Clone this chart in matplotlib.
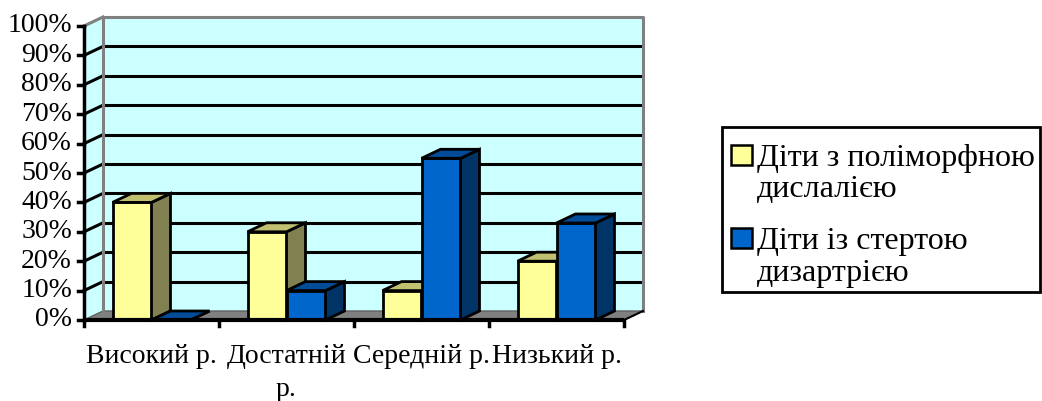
import matplotlib
matplotlib.use("Agg")
import matplotlib.pyplot as plt
from matplotlib.patches import Polygon, Rectangle

# ---- data ----
categories = ["Високий р.", "Достатній\nр.", "Середній р.", "Низький р."]
series_names = ["Діти з поліморфною\nдислалією", "Діти із стертою\nдизартрією"]
poly_dyslalia = [40, 30, 10, 20]
erased_dysarthria = [0, 10, 55, 33]
y_ticks = [0, 10, 20, 30, 40, 50, 60, 70, 80, 90, 100]

# ---- style ----
FONT = "Liberation Serif"
FS = 20
FS_LEG = 23
face = {0: "#FFFF99", 1: "#0066CC"}
side = {0: "#808050", 1: "#003366"}
top = {0: "#C0C070", 1: "#004C99"}
WALL = "#CCFFFF"
FLOOR = "#808080"

W, H = 1042, 401
fig = plt.figure(figsize=(W / 100, H / 100), dpi=100)

# pixel geometry of the 3D plot
x0p, x1p = 84, 624          # front axis
yb, yt = 320, 26            # front 0% / 100%
ddx, ddy = 19, 9            # depth offset in px
sx = (x1p - x0p) / len(categories)
sy = (yb - yt) / 100.0
DX = ddx / sx
DY = ddy / sy
ncat = len(categories)

ax = fig.add_axes([x0p / W, (H - yb) / H, (x1p - x0p + ddx) / W, (yb - yt + ddy) / H])
ax.set_xlim(0, ncat + DX)
ax.set_ylim(0, 100 + DY)
ax.axis("off")

def poly(pts, fc, ec="none", lw=0, z=1):
    ax.add_patch(Polygon(pts, closed=True, facecolor=fc, edgecolor=ec, linewidth=lw,
                         zorder=z, clip_on=False, joinstyle="miter"))

# side wall, back wall, floor
poly([(0, 0), (DX, DY), (DX, 100 + DY), (0, 100)], WALL, z=0)
poly([(DX, DY), (ncat + DX, DY), (ncat + DX, 100 + DY), (DX, 100 + DY)], WALL, z=0)
poly([(0, 0), (ncat, 0), (ncat + DX, DY), (DX, DY)], FLOOR, ec="#606060", lw=1, z=1)

# gridlines
for v in y_ticks[1:-1]:
    ax.plot([DX, ncat + DX], [v + DY, v + DY], color="black", lw=2.2, zorder=1,
            solid_capstyle="butt", clip_on=False)
    ax.plot([0, DX], [v, v + DY], color="black", lw=2.2, zorder=1, clip_on=False)
# wall borders (gray)
ax.plot([DX, DX, ncat + DX, ncat + DX], [DY, 100 + DY, 100 + DY, DY], color="#808080",
        lw=2.2, zorder=1, clip_on=False)
ax.plot([0, DX], [100, 100 + DY], color="#808080", lw=2.2, zorder=1, clip_on=False)

# bars
bw = 39 / sx
gap = (1 - 2 * bw) / 2
for i in range(ncat):
    for s, vals in enumerate([poly_dyslalia, erased_dysarthria]):
        v = vals[i]
        xa = i + gap + s * bw
        xb = xa + bw
        poly([(xa, 0), (xb, 0), (xb, v), (xa, v)], face[s], "black", 2, z=3)
        poly([(xb, 0), (xb + DX, DY), (xb + DX, v + DY), (xb, v)], side[s], "black", 2, z=3)
        poly([(xa, v), (xb, v), (xb + DX, v + DY), (xa + DX, v + DY)], top[s], "black", 2, z=3)

# axes lines
ax.plot([0, 0], [0, 100], color="black", lw=2.5, zorder=4, clip_on=False)
ax.plot([0, ncat], [0, 0], color="black", lw=3, zorder=4, clip_on=False, solid_capstyle="butt")
ax.plot([ncat, ncat + DX], [0, DY], color="black", lw=1.5, zorder=4, clip_on=False)
tk = 6 / sx
for v in y_ticks:
    ax.plot([-tk, 0], [v, v], color="black", lw=2.5, zorder=4, clip_on=False)
    ax.text(-12 / sx, v, f"{v}%", ha="right", va="center", fontsize=FS,
            family=FONT, clip_on=False)
for i in range(ncat + 1):
    ax.plot([i, i], [0, -6 / sy], color="black", lw=2.5, zorder=4, clip_on=False)
for i, lab in enumerate(categories):
    ax.text(i + 0.5, -24 / sy, lab, ha="center", va="top", fontsize=FS, family=FONT,
            linespacing=1.4, clip_on=False)

# legend (drawn in figure pixel space)
def fx(px):
    return px / W

def fy(py):
    return 1 - py / H

fig.patches.append(Rectangle((fx(722), fy(292)), fx(1040) - fx(722), fy(127) - fy(292),
                             transform=fig.transFigure, facecolor="white",
                             edgecolor="black", linewidth=2, zorder=5))
leg_rows = [(155, 186), (238, 270)]
for s, name in enumerate(series_names):
    l1, l2 = leg_rows[s]
    fig.patches.append(Rectangle((fx(731), fy(l1 + 10)), fx(752) - fx(731), fy(l1 - 10) - fy(l1 + 10),
                                 transform=fig.transFigure, facecolor=face[s],
                                 edgecolor="black", linewidth=1.8, zorder=6))
    for line, yy in zip(name.split("\n"), (l1, l2)):
        fig.text(fx(757), fy(yy), line, ha="left", va="center_baseline",
                 fontsize=FS_LEG, family=FONT, zorder=6)

fig.savefig("out.png", dpi=100)
